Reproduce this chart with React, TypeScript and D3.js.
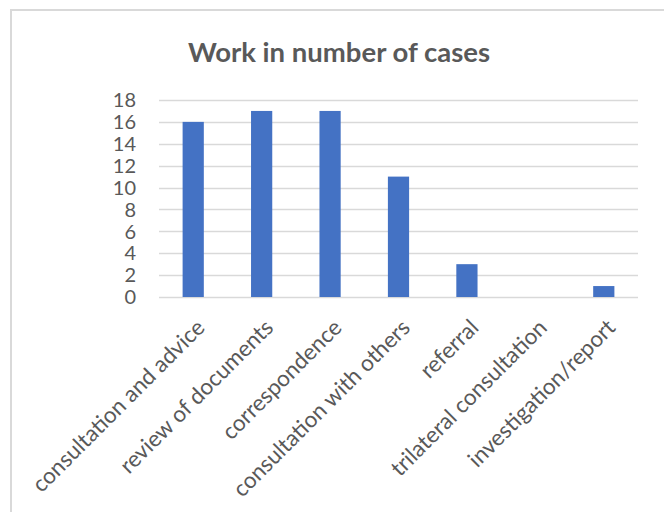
import { useEffect, useRef } from "react";
import * as d3 from "d3";

const categories = [
  "consultation and advice",
  "review of documents",
  "correspondence",
  "consultation with others",
  "referral",
  "trilateral consultation",
  "investigation/report",
];
const caseCounts = [16, 17, 17, 11, 3, 0, 1];
const yTicks = [0, 2, 4, 6, 8, 10, 12, 14, 16, 18];
const chartTitle = "Work in number of cases";

const W = 664;
const H = 512;
const FONT = "Lato, 'Open Sans', sans-serif";
const TEXT = "#595959";
const GRID = "#d9d9d9";

export default function App() {
  const ref = useRef<SVGSVGElement>(null);

  useEffect(() => {
    const svg = d3.select(ref.current);
    svg.selectAll("*").remove();

    const margin = { top: 100, right: 26, bottom: 215, left: 159 };

    // outer chart frame (cropped on the right and bottom)
    svg.append("rect")
      .attr("x", 11).attr("y", 10)
      .attr("width", W + 50).attr("height", H + 50)
      .attr("fill", "#fff")
      .attr("stroke", GRID).attr("stroke-width", 2);

    svg.append("text")
      .attr("x", 339).attr("y", 62)
      .attr("text-anchor", "middle")
      .attr("font-family", FONT).attr("font-weight", 700)
      .attr("font-size", 27.5).attr("fill", TEXT)
      .text(chartTitle);

    const x = d3.scaleBand()
      .domain(categories)
      .range([margin.left, W - margin.right])
      .paddingInner(0.69)
      .paddingOuter(0.345);

    const y = d3.scaleLinear()
      .domain([0, 18])
      .range([H - margin.bottom, margin.top]);

    svg.append("g")
      .selectAll("line")
      .data(yTicks)
      .join("line")
      .attr("x1", margin.left).attr("x2", W - margin.right)
      .attr("y1", d => Math.round(y(d)) + 0.5).attr("y2", d => Math.round(y(d)) + 0.5)
      .attr("stroke", GRID).attr("stroke-width", 1.3);

    svg.append("g")
      .selectAll("text")
      .data(yTicks)
      .join("text")
      .attr("x", 136).attr("y", d => y(d))
      .attr("dy", "0.36em")
      .attr("text-anchor", "end")
      .attr("font-family", FONT).attr("font-size", 20)
      .attr("fill", TEXT)
      .text(d => d);

    svg.append("g")
      .selectAll("rect")
      .data(caseCounts)
      .join("rect")
      .attr("x", (d, i) => x(categories[i])!)
      .attr("y", d => y(d))
      .attr("width", x.bandwidth())
      .attr("height", d => y(0) - y(d))
      .attr("fill", "#4472c4");

    svg.append("g")
      .selectAll("text")
      .data(categories)
      .join("text")
      .attr("transform", d => `translate(${x(d)! + x.bandwidth() / 2 + 13},${y(0) + 32}) rotate(-45)`)
      .attr("text-anchor", "end")
      .attr("font-family", FONT).attr("font-size", 22.5)
      .attr("fill", TEXT)
      .text(d => d);
  }, []);

  return (
    <svg ref={ref} width={W} height={H}
      style={{ position: "absolute", left: 0, top: 0 }} />
  );
}
